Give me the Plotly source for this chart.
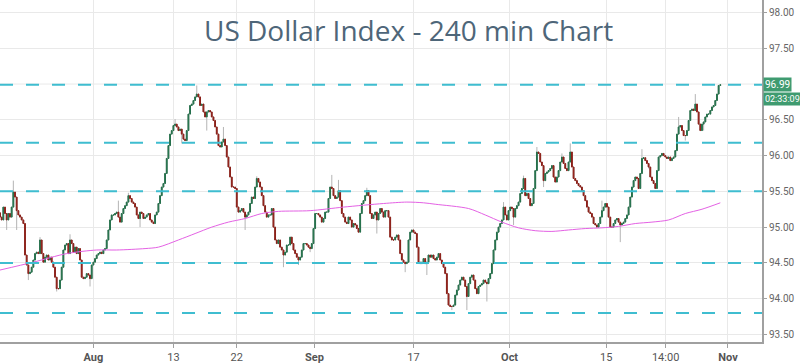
import plotly.graph_objects as go

# ---- data ----
first_open = 95.20
closes_a = [95.14, 95.10, 95.28, 95.19, 95.10, 95.19, 95.14, 95.28, 95.49, 95.42,
            95.23, 95.17, 95.14, 95.10, 95.05, 94.61, 94.47, 94.35, 94.37, 94.44,
            94.54, 94.63, 94.65, 94.63, 94.82, 94.63, 94.51, 94.58, 94.61, 94.54,
            94.58, 94.51, 94.44, 94.30, 94.14, 94.14, 94.26, 94.44, 94.68, 94.75,
            94.77, 94.63, 94.82, 94.77, 94.65, 94.72, 94.63, 94.70, 94.54, 94.30,
            94.28, 94.30, 94.35, 94.33, 94.28, 94.47, 94.51, 94.56, 94.61, 94.63,
            94.65, 94.63, 94.68, 94.70, 94.82, 94.96, 95.10, 95.17, 95.17, 95.19,
            95.21, 95.14, 95.07, 95.19, 95.26, 95.30, 95.35, 95.44, 95.40, 95.35,
            95.33, 95.28, 95.17, 95.12, 95.21, 95.19, 95.12]
closes_b = [95.14, 95.17, 95.19, 95.10, 95.07, 95.05, 95.17, 95.21, 95.33, 95.44,
            95.56, 95.61, 95.75, 95.96, 96.14, 96.30, 96.35, 96.42, 96.44, 96.40,
            96.35, 96.37, 96.30, 96.23, 96.21, 96.35, 96.58, 96.70, 96.72, 96.77,
            96.82, 96.86, 96.82, 96.70, 96.72, 96.61, 96.54, 96.61, 96.63, 96.61,
            96.54, 96.49, 96.40, 96.30, 96.14, 96.12, 96.19, 96.23, 96.14, 95.98,
            95.84, 95.70, 95.56, 95.56, 95.54, 95.28, 95.21, 95.23, 95.26, 95.21,
            95.14, 95.17, 95.21, 95.33, 95.42, 95.40, 95.56, 95.68, 95.63, 95.56,
            95.44, 95.30, 95.21, 95.14, 95.17, 95.17, 95.26, 95.00, 94.82, 94.77,
            94.82, 94.72, 94.68, 94.61, 94.65, 94.75, 94.75]
closes_c = [94.86, 94.77, 94.68, 94.63, 94.58, 94.54, 94.58, 94.68, 94.77, 94.77,
            94.75, 94.72, 94.70, 94.77, 94.98, 95.19, 95.19, 95.17, 95.14, 95.07,
            95.12, 95.21, 95.21, 95.40, 95.56, 95.54, 95.44, 95.40, 95.42, 95.51,
            95.37, 95.19, 95.14, 95.07, 95.05, 95.14, 95.10, 95.00, 95.05, 95.03,
            94.98, 94.93, 95.19, 95.33, 95.37, 95.44, 95.51, 95.44, 95.19, 95.12,
            95.17, 95.21, 95.10, 95.19, 95.26, 95.21, 95.14, 95.23, 95.23, 95.14,
            94.86, 94.82, 94.82, 94.86, 94.89, 94.82, 94.63, 94.54, 94.51, 94.49,
            94.51, 94.82, 94.93, 94.96, 94.93, 94.91, 94.72, 94.51, 94.49, 94.51,
            94.56, 94.49, 94.51, 94.61, 94.58, 94.61, 94.56]
closes_d = [94.54, 94.58, 94.63, 94.54, 94.49, 94.44, 94.35, 94.07, 93.91, 93.89,
            93.89, 93.91, 94.05, 94.12, 94.19, 94.26, 94.30, 94.26, 94.17, 94.03,
            94.21, 94.30, 94.33, 94.26, 94.14, 94.07, 94.17, 94.19, 94.21, 94.26,
            94.23, 94.21, 94.28, 94.35, 94.49, 94.68, 94.82, 94.93, 95.00, 95.05,
            95.10, 95.28, 95.17, 95.10, 95.23, 95.28, 95.26, 95.14, 95.26, 95.30,
            95.35, 95.47, 95.54, 95.68, 95.44, 95.47, 95.40, 95.30, 95.33, 95.54,
            95.79, 96.05, 96.03, 95.91, 95.86, 95.65, 95.75, 95.77, 95.79, 95.82,
            95.86, 95.70, 95.63, 95.70, 95.79, 95.91, 95.98, 95.89, 95.82, 95.79,
            95.91, 96.05, 95.84, 95.68, 95.65, 95.61, 95.58]
closes_e = [95.56, 95.51, 95.44, 95.37, 95.28, 95.21, 95.19, 95.14, 95.05, 95.03,
            95.00, 95.05, 95.14, 95.23, 95.28, 95.33, 95.28, 95.14, 95.00, 95.00,
            95.05, 95.10, 95.12, 95.07, 95.03, 95.05, 95.07, 95.12, 95.17, 95.28,
            95.42, 95.56, 95.65, 95.70, 95.68, 95.54, 95.75, 95.96, 95.97, 95.93,
            95.89, 95.84, 95.70, 95.65, 95.61, 95.54, 95.79, 95.98, 96.00, 96.03,
            96.00, 95.98, 95.96, 95.98, 95.93, 95.96, 95.98, 96.07, 96.30, 96.40,
            96.42, 96.35, 96.28, 96.28, 96.35, 96.49, 96.63, 96.65, 96.63, 96.72,
            96.61, 96.44, 96.35, 96.44, 96.47, 96.54, 96.58, 96.58, 96.63, 96.68,
            96.70, 96.77, 96.86, 96.98, 96.99]

# notable wicks: bar index -> price
wick_highs = {8: 95.65, 24: 94.86, 42: 94.90, 71: 95.37, 77: 95.48, 105: 96.51,
              118: 96.98, 134: 96.40, 154: 95.71, 199: 95.73, 203: 95.66, 220: 95.55,
              302: 95.35, 314: 95.72, 322: 96.12, 337: 96.03, 342: 96.17, 361: 95.37,
              385: 96.09, 407: 96.54, 417: 96.86}
wick_lows = {4: 94.96, 10: 94.96, 17: 94.26, 34: 94.10, 54: 94.17, 84: 95.00,
             109: 96.17, 124: 96.35, 142: 95.44, 147: 94.96, 170: 94.44, 179: 94.47,
             186: 94.65, 226: 94.91, 243: 94.37, 256: 94.33, 271: 93.84, 280: 93.84,
             292: 93.96, 308: 95.03, 326: 95.56, 372: 94.79, 389: 95.82, 411: 96.21,
             422: 96.35}

# moving average read at bar indices
ma_idx = [0, 20, 40, 58, 70, 87, 95, 107, 117, 127, 137, 147, 157, 167, 186, 206,
          230, 244, 254, 261, 281, 291, 301, 311, 321, 331, 341, 351, 361, 371, 381,
          391, 401, 411, 421, 432]
ma_val = [94.40, 94.51, 94.63, 94.68, 94.68, 94.70, 94.72, 94.82, 94.91, 95.00,
          95.07, 95.12, 95.19, 95.22, 95.23, 95.28, 95.33, 95.35, 95.34, 95.32,
          95.26, 95.17, 95.07, 94.99, 94.95, 94.94, 94.96, 94.98, 94.99, 95.01,
          95.05, 95.07, 95.10, 95.19, 95.25, 95.34]

levels = [96.99, 96.18, 95.50, 94.50, 93.80]

tick_idx = [56, 104, 142, 188.6, 248, 305.6, 363.6, 399.2, 436.6]
tick_txt = ["<b>Aug</b>", "13", "22", "<b>Sep</b>", "17", "<b>Oct</b>", "15", "14:00", "<b>Nov</b>"]

y_ticks = [93.5, 94.0, 94.5, 95.0, 95.5, 96.0, 96.5, 97.5, 98.0]
y_grid = [97.0]

last_price = "96.99"
countdown = "02:33:09"

# ---- build ----
closes = closes_a + closes_b + closes_c + closes_d + closes_e
opens = [first_open] + closes[:-1]
idx = list(range(len(closes)))
body_hi = [max(o, c) for o, c in zip(opens, closes)]
body_lo = [min(o, c) for o, c in zip(opens, closes)]
highs = list(body_hi)
lows = list(body_lo)
for k, v in wick_highs.items():
    highs[k] = max(highs[k], v)
for k, v in wick_lows.items():
    lows[k] = min(lows[k], v)

fig = go.Figure()
# wicks (gray)
fig.add_trace(go.Candlestick(
    x=idx, open=opens, high=highs, low=lows, close=closes,
    increasing=dict(line=dict(color="#b4b4b4", width=1), fillcolor="#b4b4b4"),
    decreasing=dict(line=dict(color="#b4b4b4", width=1), fillcolor="#b4b4b4"),
    whiskerwidth=0, showlegend=False, hoverinfo="skip"))
# bodies
fig.add_trace(go.Candlestick(
    x=idx, open=opens, high=body_hi, low=body_lo, close=closes,
    increasing=dict(line=dict(color="#25704b", width=1), fillcolor="#2e9463"),
    decreasing=dict(line=dict(color="#8c2019", width=1), fillcolor="#c62a20"),
    whiskerwidth=0, showlegend=False))
fig.add_trace(go.Scatter(x=ma_idx, y=ma_val, mode="lines",
                         line=dict(color="#e461e4", width=1, shape="spline", smoothing=0.8),
                         showlegend=False, hoverinfo="skip"))

for g in y_grid:
    fig.add_shape(type="line", xref="paper", x0=0, x1=1, yref="y", y0=g, y1=g,
                  line=dict(color="#e9e9e9", width=1), layer="below")
for lv in levels:
    fig.add_shape(type="line", xref="paper", x0=0, x1=1, yref="y", y0=lv, y1=lv,
                  line=dict(color="#3fbdd0", width=2, dash="13px,13px"), layer="above")

fig.add_annotation(text="US Dollar Index - 240 min Chart", xref="paper", yref="paper",
                   x=408 / 762.0, y=1 - 30 / 342.0, xanchor="center", yanchor="middle",
                   showarrow=False, font=dict(family="Open Sans", size=28, color="#4e6679"))
fig.add_annotation(text=last_price, xref="paper", x=1, xanchor="left", xshift=1,
                   y=96.99, yref="y", showarrow=False, bgcolor="#3f9b70", borderpad=1,
                   font=dict(family="Roboto", size=10, color="white"))
fig.add_annotation(text=countdown, xref="paper", x=1, xanchor="left", xshift=1,
                   y=96.99, yref="y", yshift=-14, showarrow=False, bgcolor="#3f9b70",
                   borderpad=1, font=dict(family="Roboto", size=9, color="white"))

fig.update_layout(
    width=800, height=363, margin=dict(l=0, r=38, t=0, b=21),
    paper_bgcolor="white", plot_bgcolor="white",
    xaxis=dict(range=[0, 457], tickmode="array", tickvals=tick_idx, ticktext=tick_txt,
               showgrid=True, gridcolor="#e9e9e9", gridwidth=1, zeroline=False,
               showline=True, linecolor="#a0a0a0", linewidth=2,
               ticks="outside", ticklen=4, tickcolor="#a0a0a0",
               tickfont=dict(family="Roboto", size=11, color="#555555"),
               rangeslider=dict(visible=False), fixedrange=True),
    yaxis=dict(side="right", range=[93.394, 98.175], tickmode="array", tickvals=y_ticks,
               tickformat=".2f", showgrid=True, gridcolor="#e9e9e9", gridwidth=1,
               zeroline=False, showline=True, linecolor="#a0a0a0", linewidth=2,
               ticks="outside", ticklen=3, tickcolor="#a0a0a0",
               tickfont=dict(family="Roboto", size=10, color="#666666"), fixedrange=True),
)

fig.write_html("out.html", config={"displayModeBar": False},
               post_script="document.body.style.margin='0';document.body.style.overflow='hidden';")
